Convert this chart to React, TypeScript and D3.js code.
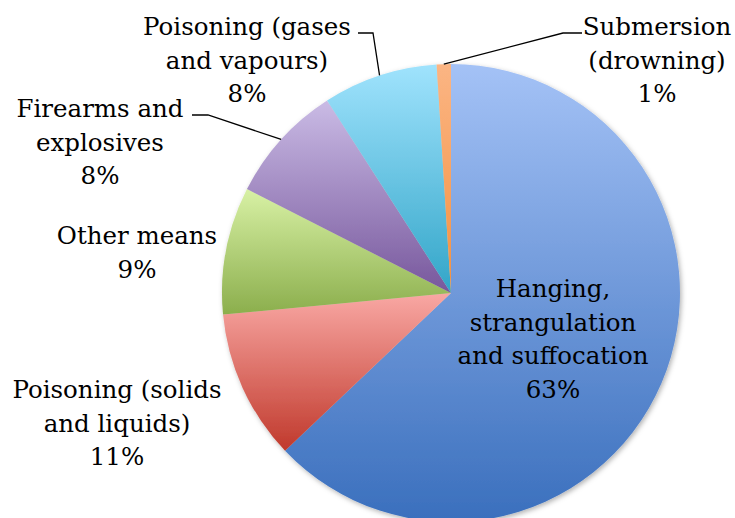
import React from 'react';
import * as d3 from 'd3';

// share of suicides by method, clockwise from 12 o'clock
const methods = [
  ['Hanging,', 'strangulation', 'and suffocation'],
  ['Poisoning (solids', 'and liquids)'],
  ['Other means'],
  ['Firearms and', 'explosives'],
  ['Poisoning (gases', 'and vapours)'],
  ['Submersion', '(drowning)'],
];
const shares = [62.9, 10.6, 9.0, 8.4, 8.1, 1.0];
const lightColors = ['#a4c2f6', '#f9a8a4', '#d8f1a5', '#cabbe5', '#a0e3fd', '#fbb584'];
const darkColors = ['#3a6fbd', '#c0392c', '#8bae4c', '#77579c', '#32a5c8', '#f4913f'];

const width = 735;
const height = 518;
const cx = 451;
const cy = 293;
const radius = 229;
const fontSize = 24.5;
const lineGap = 33.5;

// label anchor: centre x and first baseline
const labelPos: [number, number][] = [
  [553, 297],
  [117, 398],
  [137, 244],
  [100, 117],
  [247, 35],
  [657, 35],
];
// leader line: [x where text ends, x of elbow] on the first baseline (null = no leader)
const leaders: ([number, number] | null)[] = [null, null, null, [192, 208], [358, 373], [582, 563]];

export default function App() {
  const pie = d3.pie<number>().sort(null).value(d => d);
  const arcs = pie(shares);
  const arc = d3.arc<d3.PieArcDatum<number>>().innerRadius(0).outerRadius(radius);
  const edge = d3.arc<d3.PieArcDatum<number>>().innerRadius(radius).outerRadius(radius);

  return (
    <svg
      width={width}
      height={height}
      style={{ position: 'absolute', left: 0, top: 0, background: '#fff' }}
      fontFamily="'DejaVu Serif', serif"
      fontSize={fontSize}
    >
      <defs>
        {lightColors.map((c, i) => (
          <linearGradient key={i} id={`g${i}`} x1="0" y1="0" x2="0" y2="1">
            <stop offset="0" stopColor={c} />
            <stop offset="1" stopColor={darkColors[i]} />
          </linearGradient>
        ))}
        <filter id="shadow" x="-10%" y="-10%" width="120%" height="120%">
          <feDropShadow dx="1.5" dy="2" stdDeviation="2.5" floodColor="#000" floodOpacity="0.3" />
        </filter>
      </defs>
      <g transform={`translate(${cx},${cy})`} filter="url(#shadow)">
        {arcs.map((a, i) => (
          <path key={i} d={arc(a) || ''} fill={`url(#g${i})`} />
        ))}
      </g>
      {arcs.map((a, i) => {
        const l = leaders[i];
        if (!l) return null;
        const [px, py] = edge.centroid(a);
        const y = labelPos[i][1] - 2;
        return (
          <polyline
            key={i}
            points={`${l[0]},${y} ${l[1]},${y} ${cx + px},${cy + py}`}
            fill="none"
            stroke="#000"
            strokeWidth={1.3}
          />
        );
      })}
      {methods.map((lines, i) => {
        const [x, y] = labelPos[i];
        const all = [...lines, `${Math.round(shares[i])}%`];
        return (
          <text key={i} x={x} y={y} textAnchor="middle" fill="#000">
            {all.map((t, j) => (
              <tspan key={j} x={x} y={y + j * lineGap}>
                {t}
              </tspan>
            ))}
          </text>
        );
      })}
    </svg>
  );
}
